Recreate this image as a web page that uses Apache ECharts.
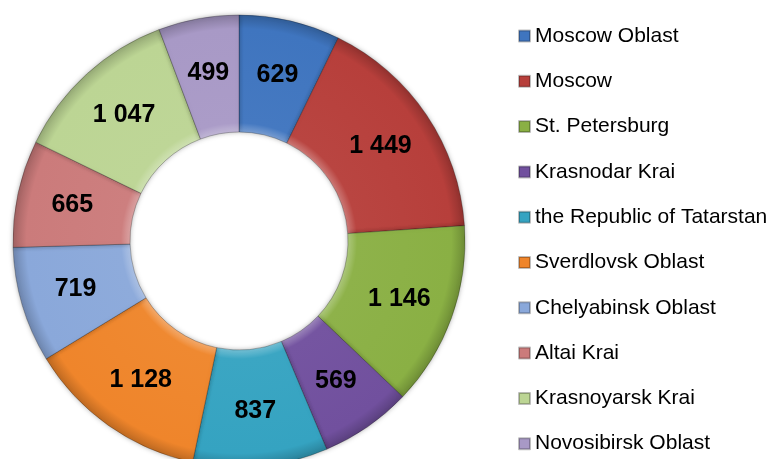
<!DOCTYPE html>
<html>
<head>
<meta charset="utf-8">
<script src="https://cdn.jsdelivr.net/npm/echarts@6/dist/echarts.min.js"></script>
<style>
  html, body { margin: 0; padding: 0; background: #fff; }
  #chart { width: 774px; height: 459px; }
</style>
</head>
<body>
<div id="chart"></div>
<script>
// Regions and their values
const regions = [
  'Moscow Oblast', 'Moscow', 'St. Petersburg', 'Krasnodar Krai',
  'the Republic of Tatarstan', 'Sverdlovsk Oblast', 'Chelyabinsk Oblast',
  'Altai Krai', 'Krasnoyarsk Krai', 'Novosibirsk Oblast'
];
const values = [629, 1449, 1146, 569, 837, 1128, 719, 665, 1047, 499];
const colors = [
  '#3F75BF', '#B73F3B', '#8AB044', '#71509E', '#35A3C1',
  '#EF852B', '#8AA8DA', '#CB7B7B', '#BCD594', '#A899C6'
];

const CX = 239, CY = 241, R_IN = 109, R_OUT = 226;

function shade(hex, f) {
  const n = parseInt(hex.slice(1), 16);
  let r = (n >> 16) & 255, g = (n >> 8) & 255, b = n & 255;
  const mix = c => f >= 0 ? Math.round(c + (255 - c) * f) : Math.round(c * (1 + f));
  return 'rgb(' + mix(r) + ',' + mix(g) + ',' + mix(b) + ')';
}

// Bevel-like fill: lighter at the inner rim, darker at the outer rim
function bevel(hex) {
  const inner = R_IN / R_OUT;
  return {
    type: 'radial', x: CX, y: CY, r: R_OUT, global: true,
    colorStops: [
      { offset: 0, color: shade(hex, 0.3) },
      { offset: inner, color: shade(hex, 0.3) },
      { offset: inner + 0.04, color: shade(hex, 0.03) },
      { offset: 0.94, color: hex },
      { offset: 1, color: shade(hex, -0.2) }
    ]
  };
}

const fmt = v => String(v).replace(/\B(?=(\d{3})+(?!\d))/g, ' ');

const chart = echarts.init(document.getElementById('chart'), null, { renderer: 'canvas' });
chart.setOption({
  animation: false,
  legend: {
    orient: 'vertical',
    left: 513,
    top: 20,
    height: 439,
    icon: 'rect',
    itemWidth: 11,
    itemHeight: 11,
    itemGap: 23.3,
    textStyle: {
      fontFamily: 'Liberation Sans, Arial, sans-serif',
      fontSize: 21,
      lineHeight: 22,
      color: '#000'
    },
    data: regions.map((n, i) => ({ name: n, itemStyle: { color: colors[i] } }))
  },
  series: [{
    type: 'pie',
    center: [CX, CY],
    radius: [R_IN, R_OUT],
    startAngle: 90,
    clockwise: true,
    avoidLabelOverlap: false,
    emphasis: { disabled: true },
    itemStyle: {
      borderColor: 'rgba(0,0,0,0.25)',
      borderWidth: 1,
      shadowBlur: 5,
      shadowColor: 'rgba(0,0,0,0.3)'
    },
    label: {
      show: true,
      position: 'inside',
      color: '#000',
      fontFamily: 'Liberation Sans, Arial, sans-serif',
      fontWeight: 'bold',
      fontSize: 25,
      formatter: p => fmt(p.value)
    },
    labelLine: { show: false },
    data: regions.map((n, i) => ({
      name: n,
      value: values[i],
      itemStyle: { color: bevel(colors[i]) }
    }))
  }]
});
</script>
</body>
</html>
